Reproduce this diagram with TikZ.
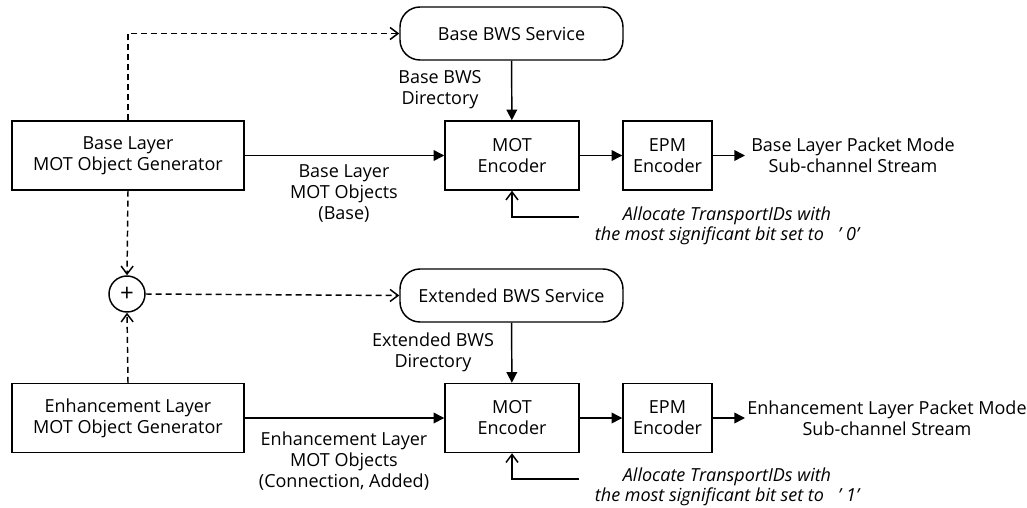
\documentclass[tikz,border=0pt]{standalone}
\usepackage{fontspec}
\setmainfont{Open Sans}
\usetikzlibrary{positioning, shapes.geometric, arrows, arrows.meta}

\tikzset{
  block/.style={draw, rectangle, line width=1.1pt, minimum height=69*0.75pt, align=center},
  service/.style={draw, rectangle, rounded corners=15pt, line width=1.1pt, minimum width=223*0.75pt, minimum height=53*0.75pt},
  lbl/.style={align=center, inner sep=0pt},
  flow/.style={line width=1.1pt, -{Triangle[length=8pt,width=8pt]}},
  hint/.style={line width=1.1pt, dash pattern=on 4.5pt off 3pt, -{Straight Barb[length=6pt,width=9pt]}},
  back/.style={line width=1.1pt, -{Straight Barb[length=6pt,width=9pt]}},
}

\begin{document}
\begin{tikzpicture}[x=0.75pt, y=-0.75pt, font=\fontsize{13.5}{15.75}\selectfont]
  \useasboundingbox (0,0) rectangle (1027,507);

  % base layer
  \node [block, minimum width=232*0.75pt] (bgen) at (128,155.5) {Base Layer\\MOT Object Generator};
  \node [service] (bsvc) at (511.5,33.5) {Base BWS Service};
  \node [block, minimum width=134*0.75pt] (bmot) at (512,155.5) {MOT\\Encoder};
  \node [block, minimum width=89*0.75pt] (bepm) at (667.5,155.5) {EPM\\Encoder};
  \node [lbl] (bout) at (853,155.5) {Base Layer Packet Mode\\Sub-channel Stream};
  \node [lbl] (bdir) at (440,90) {Base BWS\\Directory};
  \node [lbl] (bobj) at (344,193) {Base Layer\\MOT Objects\\(Base)};
  \node [lbl, font=\fontsize{13.5}{15}\selectfont\itshape] (balloc) at (727,226) {Allocate TransportIDs with\\the most significant bit set to \ \ '\;0'};
  \coordinate (bfb) at (579,217);
  \coordinate (bend) at (745,155.5);

  % enhancement layer
  \node [draw, circle, line width=1.1pt, minimum size=36*0.75pt, inner sep=0pt, font=\fontsize{18}{18}\selectfont] (plus) at (127,294) {+};
  \node [service] (esvc) at (511.5,295.5) {Extended BWS Service};
  \node [block, minimum width=232*0.75pt] (egen) at (128,418) {Enhancement Layer\\MOT Object Generator};
  \node [block, minimum width=134*0.75pt] (emot) at (512,418) {MOT\\Encoder};
  \node [block, minimum width=89*0.75pt] (eepm) at (667.5,418) {EPM\\Encoder};
  \node [lbl] (eout) at (887,418) {Enhancement Layer Packet Mode\\Sub-channel Stream};
  \node [lbl] (edir) at (433,352.5) {Extended BWS\\Directory};
  \node [lbl] (eobj) at (344,461) {Enhancement Layer\\MOT Objects\\(Connection, Added)};
  \node [lbl, font=\fontsize{13.5}{15}\selectfont\itshape] (ealloc) at (727,487) {Allocate TransportIDs with\\the most significant bit set to \ \ '\;1'};
  \coordinate (efb) at (579,479);
  \coordinate (eend) at (745,418);

  % connectors
  \draw [hint] (bgen.north) |- (bsvc.west);
  \draw [hint] (bgen.south) -- (plus.north);
  \draw [hint] (egen.north) -- (plus.south);
  \draw [hint] (plus.east) -- (esvc.west);
  \draw [flow] (bgen) -- (bmot);
  \draw [flow] (bsvc) -- (bmot);
  \draw [flow] (bmot) -- (bepm);
  \draw [flow] (bepm.east) -- (bend);
  \draw [back] (bfb) -| (bmot.south);
  \draw [flow] (egen) -- (emot);
  \draw [flow] (esvc) -- (emot);
  \draw [flow] (emot) -- (eepm);
  \draw [flow] (eepm.east) -- (eend);
  \draw [back] (efb) -| (emot.south);
\end{tikzpicture}
\end{document}
